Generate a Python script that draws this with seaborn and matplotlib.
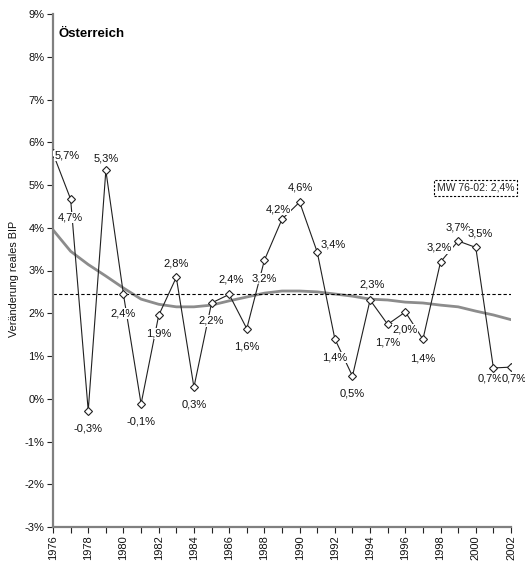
import matplotlib
matplotlib.use("Agg")
import matplotlib.pyplot as plt
import seaborn as sns
import pandas as pd
import numpy as np

# ---------------- data ----------------
years = list(range(1976, 2003))
growth = [5.74, 4.67, -0.28, 5.34, 2.44, -0.12, 1.95, 2.84, 0.27, 2.24,
          2.44, 1.64, 3.24, 4.20, 4.60, 3.43, 1.40, 0.53, 2.31, 1.74,
          2.03, 1.39, 3.20, 3.69, 3.54, 0.72, 0.74]
trend = [3.95, 3.45, 3.14, 2.87, 2.59, 2.33, 2.21, 2.15, 2.15, 2.19,
         2.29, 2.38, 2.47, 2.52, 2.52, 2.50, 2.45, 2.40, 2.33, 2.31,
         2.26, 2.24, 2.19, 2.15, 2.05, 1.96, 1.85]
title = "Österreich"
y_label = "Veränderung reales BIP"
yticks = [-3, -2, -1, 0, 1, 2, 3, 4, 5, 6, 7, 8, 9]
xtick_labels = [str(y) for y in range(1976, 2003, 2)]

# ---------------- style ----------------
sns.set_style("white")
plt.rcParams['font.family'] = ['Liberation Sans', 'DejaVu Sans']

# label placement offsets (pixels: dx right, dy down)
label_offsets = [(14, 2), (0, 18), (0, 18), (0, -12), (0, 19), (0, 18), (0, 18),
                 (0, -14), (0, 17), (0, 18), (2, -15), (0, 18), (0, 18), (-4, -10),
                 (1, -15), (16, -8), (0, 19), (0, 17), (2, -15), (0, 18), (0, 18),
                 (0, 19), (-1, -14), (0, -14), (4, -14), (-3, 11), (3, 11)]

df = pd.DataFrame({"Jahr": years, "BIP": growth, "Trend": trend})
mean_val = float(np.mean(growth))

fig = plt.figure(figsize=(5.25, 5.63), dpi=100)
ax = fig.add_axes([53/525, 1-527/563, 458/525, 513/563])

sns.lineplot(data=df, x="Jahr", y="Trend", ax=ax, color="#8c8c8c", linewidth=2.0, zorder=2)
ax.axhline(mean_val, color="black", linewidth=0.8, linestyle=(0, (3, 2)), zorder=2.5)
sns.lineplot(data=df, x="Jahr", y="BIP", ax=ax, color="#202020", linewidth=0.8,
             marker="D", markersize=3.6, markerfacecolor="white",
             markeredgecolor="#202020", markeredgewidth=0.8, zorder=3)

for yr, v, (dx, dy) in zip(years, growth, label_offsets):
    ax.annotate(f"{v:.1f}%".replace(".", ","), xy=(yr, v), xytext=(dx, -dy),
                textcoords="offset pixels", ha="center", va="center",
                fontsize=8, color="#111111", zorder=4, annotation_clip=False,
                bbox=dict(boxstyle="square,pad=0.05", fc="white", ec="none"))

ax.set_xlim(1976, 2002)
ax.set_ylim(-3, 9)
ax.set_xticks(years)
ax.set_xticklabels([str(y) if (y - 1976) % 2 == 0 else "" for y in years],
                   rotation=90, fontsize=8)
ax.set_yticks(yticks)
ax.set_yticklabels([f"{t}%" for t in yticks], fontsize=8)
ax.tick_params(axis="both", direction="out", length=4, width=0.8, color="#222222",
               pad=2, labelcolor="#111111")
ax.tick_params(axis="x", bottom=True)
ax.tick_params(axis="y", left=True)
for s in ["top", "right"]:
    ax.spines[s].set_visible(False)
for s in ["left", "bottom"]:
    ax.spines[s].set_color("#808080")
    ax.spines[s].set_linewidth(1.6)
ax.set_xlabel("")
ax.set_ylabel(y_label, fontsize=7.8, color="#111111")
ax.yaxis.set_label_coords(-0.074, 0.483)

ax.text(0.013, 0.961, title, transform=ax.transAxes, fontsize=9.5, fontweight="bold",
        ha="left", va="center", color="black")
ax.text(0.838, 0.661, f"MW 76-02: {mean_val:.1f}%".replace(".", ","),
        transform=ax.transAxes, fontsize=7.5, ha="left", va="center", clip_on=False,
        bbox=dict(boxstyle="square,pad=0.25", fc="white", ec="black", lw=0.8,
                  linestyle=(0, (2, 1.5))))

fig.savefig("out.png", dpi=100)
